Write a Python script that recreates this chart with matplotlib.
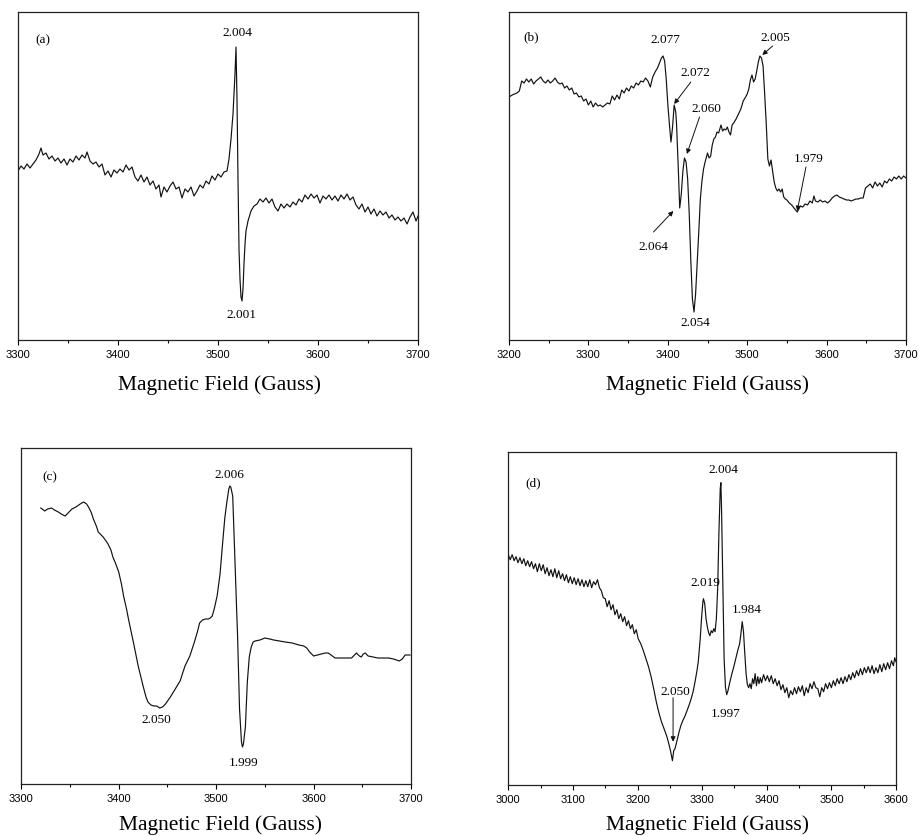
import matplotlib
matplotlib.use("Agg")
import matplotlib.pyplot as plt
from matplotlib.ticker import MultipleLocator

# ---------------- data (field in Gauss, signal in arbitrary units) ----------------
a_field = [3300, 3303, 3306, 3309, 3312, 3315, 3318, 3321, 3323, 3325, 3328, 3331, 3334, 3337, 3340,
           3343, 3346, 3349, 3352, 3355, 3358, 3361, 3364, 3367, 3369, 3372, 3375, 3378, 3381, 3384,
           3387, 3390, 3393, 3396, 3399, 3402, 3405, 3408, 3411, 3414, 3417, 3420, 3423, 3426, 3429,
           3432, 3435, 3438, 3441, 3443, 3446, 3449, 3452, 3455, 3458, 3461, 3464, 3467, 3470, 3473,
           3476, 3479, 3482, 3485, 3488, 3491, 3494, 3497, 3500, 3503, 3506, 3509, 3511, 3513, 3515,
           3516, 3517, 3518, 3519, 3520, 3521, 3522, 3523, 3524, 3525, 3526, 3527, 3528, 3530, 3533,
           3536, 3539, 3542, 3545, 3548, 3551, 3554, 3557, 3560, 3563, 3566, 3569, 3572, 3575, 3578,
           3581, 3584, 3587, 3590, 3593, 3596, 3599, 3602, 3605, 3608, 3611, 3614, 3617, 3620, 3623,
           3626, 3629, 3632, 3635, 3638, 3641, 3644, 3647, 3650, 3653, 3656, 3659, 3662, 3665, 3668,
           3671, 3674, 3677, 3680, 3683, 3686, 3689, 3692, 3695, 3698, 3700]
a_signal = [169, 174, 171, 176, 172, 176, 180, 186, 192, 185, 187, 181, 184, 179, 182,
            177, 181, 175, 181, 178, 184, 180, 185, 182, 188, 179, 176, 178, 173, 176,
            165, 169, 163, 170, 167, 171, 168, 175, 170, 173, 163, 159, 165, 158, 163,
            155, 159, 151, 155, 143, 153, 148, 154, 158, 151, 153, 142, 151, 148, 153,
            144, 149, 155, 152, 159, 156, 164, 160, 166, 163, 168, 169, 181, 201, 226,
            246, 266, 293, 241, 161, 91, 61, 43, 39, 51, 76, 96, 109, 119, 129,
            134, 136, 141, 138, 142, 137, 141, 133, 129, 136, 132, 136, 133, 138, 135,
            141, 138, 145, 141, 146, 142, 145, 137, 144, 141, 145, 140, 144, 139, 145,
            141, 146, 140, 143, 135, 131, 136, 128, 133, 126, 131, 124, 129, 125, 128,
            122, 125, 120, 123, 119, 122, 116, 123, 128, 119, 124]

b_field = [3200, 3204, 3207, 3210, 3213, 3216, 3219, 3222, 3225, 3228, 3231, 3234, 3237, 3240, 3243,
           3246, 3249, 3252, 3255, 3258, 3261, 3264, 3267, 3270, 3273, 3276, 3279, 3282, 3285, 3288,
           3291, 3294, 3297, 3300, 3303, 3306, 3309, 3312, 3315, 3318, 3321, 3324, 3327, 3330, 3333,
           3336, 3339, 3342, 3345, 3348, 3351, 3354, 3357, 3360, 3363, 3366, 3369, 3372, 3375, 3378,
           3381, 3384, 3387, 3390, 3392, 3394, 3396, 3398, 3400, 3402, 3404, 3406, 3408, 3410, 3411,
           3413, 3415, 3417, 3419, 3421, 3423, 3425, 3427, 3429, 3431, 3433, 3435, 3437, 3439, 3441,
           3443, 3445, 3447, 3450, 3452, 3454, 3456, 3458, 3460, 3462, 3464, 3467, 3469, 3471, 3473,
           3475, 3477, 3479, 3481, 3483, 3486, 3489, 3492, 3495, 3498, 3500, 3502, 3504, 3506, 3508,
           3510, 3512, 3514, 3516, 3518, 3520, 3522, 3524, 3526, 3528, 3530, 3532, 3534, 3536, 3538,
           3540, 3542, 3544, 3546, 3548, 3550, 3553, 3556, 3559, 3561, 3563, 3565, 3567, 3570, 3573,
           3576, 3579, 3582, 3584, 3586, 3589, 3592, 3595, 3598, 3601, 3604, 3607, 3610, 3613, 3616,
           3619, 3622, 3625, 3628, 3631, 3634, 3637, 3640, 3643, 3646, 3649, 3652, 3655, 3658, 3661,
           3664, 3667, 3670, 3673, 3676, 3679, 3682, 3685, 3688, 3691, 3694, 3697, 3700]
b_signal = [243, 245, 246, 247, 249, 259, 257, 261, 258, 261, 256, 259, 261, 263, 259,
            257, 260, 257, 259, 262, 258, 256, 257, 252, 254, 250, 252, 246, 247, 243,
            244, 239, 241, 235, 239, 233, 237, 234, 235, 233, 235, 237, 236, 244, 240,
            245, 241, 250, 247, 252, 249, 254, 252, 257, 255, 259, 258, 262, 259, 253,
            263, 268, 272, 278, 282, 284, 279, 261, 236, 216, 198, 213, 235, 228, 216,
            176, 132, 146, 169, 182, 178, 161, 126, 79, 41, 28, 46, 76, 108, 141,
            159, 171, 178, 187, 182, 184, 195, 201, 203, 208, 207, 215, 209, 211, 210,
            213, 208, 205, 215, 217, 221, 226, 231, 239, 243, 246, 251, 260, 265, 258,
            261, 269, 278, 284, 282, 274, 246, 216, 181, 174, 180, 169, 158, 152, 149,
            151, 148, 151, 143, 141, 140, 137, 135, 132, 130, 128, 131, 134, 133, 136,
            135, 139, 137, 144, 139, 138, 140, 138, 139, 137, 139, 142, 144, 145, 143,
            142, 141, 140, 140, 139, 140, 141, 141, 142, 142, 152, 154, 156, 152, 158,
            154, 157, 153, 159, 157, 161, 159, 163, 161, 164, 161, 164, 162]

c_field = [3320, 3324, 3327, 3331, 3334, 3338, 3341, 3345, 3348, 3352, 3356, 3359, 3362, 3364, 3367,
           3369, 3372, 3374, 3377, 3379, 3382, 3384, 3387, 3389, 3392, 3394, 3397, 3400, 3403, 3405,
           3408, 3410, 3415, 3420, 3425, 3428, 3430, 3433, 3436, 3439, 3442, 3445, 3448, 3453, 3458,
           3463, 3468, 3473, 3478, 3481, 3483, 3486, 3489, 3492, 3494, 3496, 3498, 3501, 3504, 3507,
           3509, 3511, 3513, 3514, 3515, 3517, 3519, 3521, 3522, 3524, 3526, 3527, 3528, 3530, 3532,
           3534, 3536, 3538, 3540, 3545, 3550, 3555, 3559, 3565, 3571, 3578, 3585, 3590, 3593, 3596,
           3600, 3604, 3608, 3612, 3615, 3618, 3622, 3626, 3631, 3635, 3639, 3642, 3644, 3647, 3649,
           3651, 3653, 3656, 3661, 3666, 3671, 3677, 3682, 3688, 3691, 3694, 3699]
c_signal = [276, 273, 275, 276, 274, 272, 270, 268, 271, 275, 277, 279, 281, 282, 280,
            277, 271, 265, 258, 252, 249, 247, 243, 240, 234, 227, 220, 212, 199, 188,
            175, 165, 142, 118, 98, 87, 82, 79, 78, 78, 76, 77, 80, 87, 95,
            103, 118, 128, 143, 153, 161, 164, 165, 165, 166, 168, 175, 188, 210, 245,
            267, 282, 295, 298, 297, 288, 232, 175, 148, 75, 42, 37, 40, 57, 102,
            127, 137, 142, 143, 144, 146, 145, 144, 143, 142, 141, 139, 138, 136, 132,
            128, 129, 130, 131, 131, 129, 126, 126, 126, 126, 126, 129, 131, 128, 127,
            130, 131, 128, 127, 126, 126, 126, 125, 123, 125, 129, 129]

d_field = [3000, 3003, 3006, 3009, 3012, 3015, 3018, 3021, 3024, 3027, 3030, 3033, 3036, 3039, 3042,
           3045, 3048, 3051, 3054, 3057, 3060, 3063, 3066, 3069, 3072, 3075, 3078, 3081, 3084, 3087,
           3090, 3093, 3096, 3099, 3102, 3105, 3108, 3111, 3114, 3117, 3120, 3123, 3126, 3129, 3132,
           3135, 3138, 3141, 3144, 3147, 3150, 3153, 3156, 3159, 3162, 3165, 3168, 3171, 3174, 3177,
           3180, 3183, 3186, 3189, 3192, 3195, 3198, 3201, 3205, 3209, 3213, 3217, 3221, 3225, 3229,
           3233, 3237, 3241, 3245, 3248, 3251, 3254, 3256, 3258, 3261, 3264, 3267, 3270, 3273, 3276,
           3280, 3283, 3286, 3289, 3292, 3294, 3297, 3299, 3301, 3302, 3304, 3306, 3308, 3310, 3312,
           3314, 3316, 3318, 3320, 3322, 3324, 3326, 3328, 3329, 3330, 3332, 3334, 3336, 3338, 3340,
           3343, 3346, 3349, 3352, 3355, 3358, 3360, 3362, 3364, 3366, 3368, 3370, 3372, 3374, 3376,
           3378, 3380, 3382, 3384, 3386, 3388, 3390, 3392, 3395, 3398, 3401, 3404, 3407, 3410, 3413,
           3416, 3419, 3422, 3425, 3428, 3431, 3434, 3437, 3440, 3443, 3446, 3449, 3452, 3455, 3458,
           3461, 3464, 3467, 3470, 3473, 3476, 3479, 3482, 3485, 3488, 3491, 3494, 3497, 3500, 3503,
           3506, 3509, 3512, 3515, 3518, 3521, 3524, 3527, 3530, 3533, 3536, 3539, 3542, 3545, 3548,
           3551, 3554, 3557, 3560, 3563, 3566, 3569, 3572, 3575, 3578, 3581, 3584, 3587, 3590, 3593,
           3596, 3598, 3600]
d_signal = [230, 225, 230, 224, 228, 222, 227, 221, 226, 219, 224, 218, 223, 216, 221,
            213, 221, 214, 220, 211, 217, 209, 215, 208, 216, 207, 214, 206, 211, 204,
            210, 202, 208, 201, 207, 200, 206, 199, 205, 198, 204, 198, 205, 197, 203,
            200, 205, 197, 194, 187, 186, 178, 184, 175, 180, 170, 175, 166, 171, 163,
            168, 159, 164, 156, 160, 151, 155, 146, 141, 134, 126, 118, 108, 96, 83,
            72, 63, 56, 49, 42, 34, 24, 34, 36, 44, 52, 59, 64, 68, 73,
            80, 86, 93, 103, 114, 123, 146, 166, 182, 186, 181, 166, 158, 152, 149,
            154, 152, 156, 153, 166, 196, 253, 296, 302, 276, 203, 126, 98, 90, 94,
            103, 111, 118, 126, 134, 141, 151, 163, 153, 131, 111, 100, 97, 101, 96,
            106, 101, 111, 99, 108, 101, 107, 102, 110, 104, 109, 103, 109, 101, 106,
            99, 104, 95, 100, 92, 97, 87, 94, 90, 97, 91, 98, 93, 99, 89,
            97, 92, 101, 96, 103, 97, 96, 88, 97, 93, 101, 96, 102, 97, 104,
            99, 106, 101, 107, 101, 108, 103, 110, 105, 112, 107, 114, 109, 116, 110,
            117, 112, 118, 112, 119, 111, 117, 112, 120, 113, 121, 115, 122, 116, 124,
            119, 127, 123]

tick_sets = {
    "a": [3300, 3400, 3500, 3600, 3700],
    "b": [3200, 3300, 3400, 3500, 3600, 3700],
    "c": [3300, 3400, 3500, 3600, 3700],
    "d": [3000, 3100, 3200, 3300, 3400, 3500, 3600],
}

# plain labels: (text, field, signal)
a_labels = [("2.004", 3519, 308), ("2.001", 3523, 26)]
b_labels = [("2.077", 3397, 301), ("2.054", 3435, 18)]
c_labels = [("2.006", 3514, 310), ("2.050", 3439, 65), ("1.999", 3528, 22)]
d_labels = [("2.004", 3333, 316), ("2.019", 3305, 203), ("1.984", 3369, 176), ("1.997", 3336, 72)]
# arrow labels: (text, text_field, text_signal, tail_field, tail_signal, head_field, head_signal)
b_arrows = [("2.072", 3435, 268, 3429, 258, 3408, 236),
            ("2.060", 3448, 232, 3440, 223, 3424, 186),
            ("2.064", 3382, 94, 3382, 108, 3407, 129),
            ("2.005", 3535, 303, 3532, 294, 3519, 285),
            ("1.979", 3578, 182, 3574, 173, 3563, 129)]
d_arrows = [("2.050", 3258, 94, 3255, 87, 3255, 43)]

# ---------------- figure ----------------
W, H = 919, 837
fig = plt.figure(figsize=(W / 100, H / 100), dpi=100)

serif = "Liberation Serif"
sans = "Liberation Sans"

panels = [
    ("a", a_field, a_signal, (18, 13, 418, 341), (3300, 3700), 328, (0.062, 0.918), a_labels, [], (0.505, -0.134)),
    ("b", b_field, b_signal, (509, 13, 906, 341), (3200, 3700), 328, (0.055, 0.927), b_labels, b_arrows, (0.501, -0.134)),
    ("c", c_field, c_signal, (21.3, 449.3, 411, 785), (3300, 3700), 335.7, (0.074, 0.917), c_labels, [], (0.51, -0.119)),
    ("d", d_field, d_signal, (508.3, 453.3, 896, 785.7), (3000, 3600), 332.4, (0.063, 0.91), d_labels, d_arrows, (0.515, -0.118)),
]

for key, fx, sy, (l, t, r, b), xlim, ytop, letter, labels, arrows, xlpos in panels:
    ax = fig.add_axes([l / W, 1 - b / H, (r - l) / W, (b - t) / H])
    ax.plot(fx, sy, color="#111111", lw=0.85)
    ax.set_xlim(*xlim)
    ax.set_ylim(0, ytop)
    ax.set_yticks([])
    ax.set_xticks(tick_sets[key])
    ax.xaxis.set_minor_locator(MultipleLocator(50))
    ax.tick_params(axis="x", which="major", direction="out", length=3.5, width=0.8, pad=3,
                   labelsize=8)
    ax.tick_params(axis="x", which="minor", direction="out", length=2, width=0.8)
    for lab in ax.get_xticklabels():
        lab.set_fontfamily(sans)
    for s in ax.spines.values():
        s.set_linewidth(0.9)
        s.set_color("#222222")
    ax.set_xlabel("Magnetic Field (Gauss)", fontfamily=serif, fontsize=15.5)
    ax.xaxis.set_label_coords(*xlpos)
    ax.xaxis.label.set_va("center")
    ax.text(letter[0], letter[1], "(%s)" % key, transform=ax.transAxes, fontfamily=serif,
            fontsize=9.5, ha="center", va="center")
    for txt, x, y in labels:
        ax.text(x, y, txt, fontfamily=serif, fontsize=9.5, ha="center", va="center")
    for txt, tx, ty, x0, y0, x1, y1 in arrows:
        ax.text(tx, ty, txt, fontfamily=serif, fontsize=9.5, ha="center", va="center")
        ax.annotate("", xy=(x1, y1), xytext=(x0, y0),
                    arrowprops=dict(arrowstyle="-|>", color="#111111", lw=0.7,
                                    mutation_scale=7, shrinkA=0, shrinkB=0))

fig.savefig("out.png", dpi=100)
